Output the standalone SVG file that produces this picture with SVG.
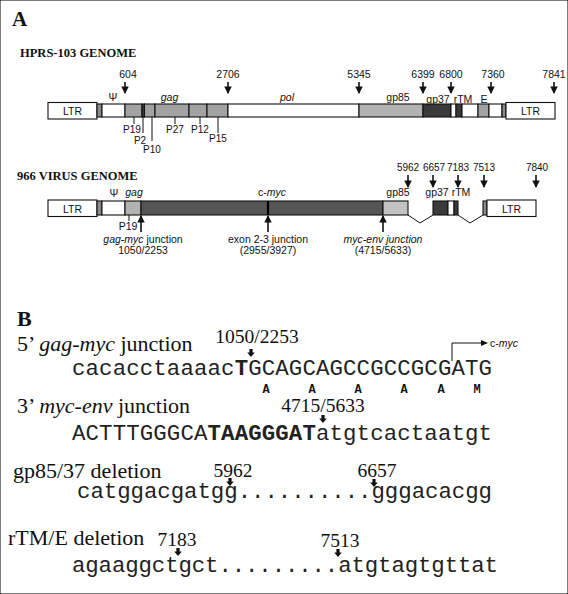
<svg xmlns="http://www.w3.org/2000/svg" width="568" height="594" viewBox="0 0 568 594">
<style>
.sans{font-family:"Liberation Sans",Arial,sans-serif;font-size:10.5px;fill:#111}
.sm{font-size:10px}
.mid{text-anchor:middle}
.it{font-style:italic}
.serif{font-family:"Liberation Serif","Times New Roman",serif;fill:#111}
.head{font-family:"Liberation Serif","Times New Roman",serif;font-weight:bold;fill:#111}
.mono{font-family:"Liberation Mono","Courier New",monospace;font-size:22.4px;fill:#222}
.aa{font-family:"Liberation Mono","Courier New",monospace;font-size:12px;font-weight:bold;fill:#111;text-anchor:middle}
.b{font-weight:bold}
rect{stroke:#111;stroke-width:1.1}
.w{fill:#fff}
.g0{fill:#8a8a8a}
.g1{fill:#a2a2a2}
.g2{fill:#b2b2b2}
.g3{fill:#c2c2c2}
.d{fill:#3a3a3a}
.d2{fill:#555}
.ln{stroke:#111;stroke-width:1;fill:none}
.arr{stroke:#111;stroke-width:1.6;fill:none;marker-end:url(#ah)}
</style>
<defs>
<marker id="ah" viewBox="0 0 8 8" refX="7" refY="4" markerWidth="7.5" markerHeight="7.5" markerUnits="userSpaceOnUse" orient="auto"><path d="M0,0 L8,4 L0,8 Z" fill="#111"/></marker>
<path id="barr" d="M-1.6,0 H1.6 V3.5 H3.8 L0,8 L-3.8,3.5 H-1.6 Z" fill="#111"/>
</defs>
<rect x="0" y="0" width="568" height="594" fill="#fff" stroke="none"/>

<g id="panelA-labels">
<text class="head" x="12" y="26" font-size="21">A</text>
<text class="head" x="20" y="57" font-size="12.5">HPRS-103 GENOME</text>
<text class="head" x="17" y="180" font-size="12.5">966 VIRUS GENOME</text>
</g>

<g id="hprs-genome">
<rect class="w" x="48" y="102.5" width="49" height="16.5"/>
<text class="sans mid" x="72.5" y="115">LTR</text>
<rect class="g0" x="97" y="104" width="5" height="13"/>
<rect class="w" x="102" y="104" width="23" height="13"/>
<rect class="g1" x="125" y="104" width="17" height="13"/>
<rect class="d" x="142" y="104" width="2.5" height="13"/>
<rect class="g1" x="144.5" y="104" width="10.5" height="13"/>
<rect class="g1" x="155" y="104" width="34" height="13"/>
<rect class="g1" x="189" y="104" width="18" height="13"/>
<rect class="g1" x="207" y="104" width="21" height="13"/>
<rect class="w" x="228" y="104" width="131" height="13"/>
<rect class="g2" x="359" y="104" width="64" height="13"/>
<rect class="d" x="423" y="104" width="28" height="13"/>
<rect class="w" x="451" y="104" width="5" height="13"/>
<rect class="d" x="456" y="104" width="6" height="13"/>
<rect class="w" x="462" y="104" width="16" height="13"/>
<rect class="g1" x="478" y="104" width="11" height="13"/>
<rect class="w" x="489" y="104" width="13" height="13"/>
<rect class="g0" x="502" y="104" width="4" height="13"/>
<rect class="w" x="506" y="102.5" width="49" height="16.5"/>
<text class="sans mid" x="530.5" y="115">LTR</text>
<text class="sans mid" x="113" y="101">Ψ</text>
<text class="sans mid it" x="169.5" y="101">gag</text>
<text class="sans mid it" x="287" y="101">pol</text>
<text class="sans mid" x="398" y="101">gp85</text>
<text class="sans mid" x="438" y="103">gp37</text>
<text class="sans mid" x="463" y="103">rTM</text>
<text class="sans mid" x="484" y="103">E</text>
<path class="ln" d="M134,117 V124 M143,117 V133 M152,117 V141 M175,117 V124 M200,117 V124 M218,117 V133"/>
<text class="sans sm mid" x="132" y="132.5">P19</text>
<text class="sans sm mid" x="140" y="143.5">P2</text>
<text class="sans sm mid" x="152" y="153">P10</text>
<text class="sans sm mid" x="175" y="132.5">P27</text>
<text class="sans sm mid" x="200" y="132.5">P12</text>
<text class="sans sm mid" x="218" y="142">P15</text>
<text class="sans mid" x="128" y="78">604</text>
<text class="sans mid" x="228" y="78">2706</text>
<text class="sans mid" x="359" y="78">5345</text>
<text class="sans mid" x="423" y="78">6399</text>
<text class="sans mid" x="451" y="78">6800</text>
<text class="sans mid" x="493" y="78">7360</text>
<text class="sans mid" x="554" y="78">7841</text>
</g>

<g id="virus966-genome">
<rect class="w" x="48" y="200" width="49" height="16.5"/>
<text class="sans mid" x="72.5" y="212.5">LTR</text>
<rect class="g0" x="97" y="201" width="5" height="14"/>
<rect class="w" x="102" y="201" width="23" height="14"/>
<rect class="g2" x="125" y="201" width="16" height="14"/>
<rect class="d2" x="141" y="201" width="242" height="14"/>
<line x1="268" y1="201" x2="268" y2="215" stroke="#000" stroke-width="2.2"/>
<rect class="g3" x="383" y="201" width="25" height="14"/>
<rect class="d" x="433" y="201" width="15" height="14"/>
<rect class="w" x="448" y="201" width="6" height="14"/>
<rect class="d" x="454" y="201" width="4" height="14"/>
<rect class="g0" x="483" y="201" width="4" height="14"/>
<rect class="w" x="487" y="200" width="49" height="16.5"/>
<text class="sans mid" x="511.5" y="212.5">LTR</text>
<text class="sans mid" x="114" y="197">Ψ</text>
<text class="sans mid it" x="134" y="196">gag</text>
<text class="sans mid" x="272" y="196">c-<tspan class="it">myc</tspan></text>
<text class="sans mid" x="398" y="196">gp85</text>
<text class="sans mid" x="437" y="196">gp37</text>
<text class="sans mid" x="461" y="196">rTM</text>
<path class="ln" d="M129,215 V221"/>
<text class="sans mid" x="128" y="230">P19</text>
<text class="sans mid" x="143" y="243"><tspan class="it">gag-myc</tspan> junction</text>
<text class="sans mid" x="143" y="254">1050/2253</text>
<text class="sans mid" x="268" y="243">exon 2-3 junction</text>
<text class="sans mid" x="268" y="254">(2955/3927)</text>
<text class="sans mid it" x="383" y="243">myc-env junction</text>
<text class="sans mid" x="383" y="254">(4715/5633)</text>
<text class="sans sm mid" x="408" y="171">5962</text>
<text class="sans sm mid" x="434" y="171">6657</text>
<text class="sans sm mid" x="458" y="171">7183</text>
<text class="sans sm mid" x="484" y="171">7513</text>
<text class="sans sm mid" x="537" y="171">7840</text>
</g>

<g id="connectors">
<path class="ln" stroke-width="1.1" d="M408,215 L420,223 L433,215 M458,215 L470,223 L483,215"/>
<path class="arr" d="M125,82 V93"/>
<path class="arr" d="M228,82 V93"/>
<path class="arr" d="M359,82 V93"/>
<path class="arr" d="M423,82 V93"/>
<path class="arr" d="M451,82 V93"/>
<path class="arr" d="M491,82 V93"/>
<path class="arr" d="M554,82 V93"/>
<path class="arr" d="M408,175 V187"/>
<path class="arr" d="M433,175 V187"/>
<path class="arr" d="M458,175 V187"/>
<path class="arr" d="M484,175 V187"/>
<path class="arr" d="M536,175 V187"/>
<path class="arr" d="M141,232 V216"/>
<path class="arr" d="M268,232 V216"/>
<path class="arr" d="M383,232 V216"/>
</g>

<g id="panelB">
<text class="head" x="17" y="326" font-size="22">B</text>
<text class="serif" x="17" y="351" font-size="22">5’ <tspan class="it">gag-myc</tspan> junction</text>
<text class="serif mid" x="257" y="343" font-size="19.5">1050/2253</text>
<use href="#barr" x="251" y="349"/>
<text class="mono" x="72" y="375" textLength="420" lengthAdjust="spacing">cacacctaaaac<tspan class="b">T</tspan>GCAGCAGCCGCCGCGATG</text>
<text class="aa" x="266" y="392.5">A</text>
<text class="aa" x="312" y="392.5">A</text>
<text class="aa" x="358" y="392.5">A</text>
<text class="aa" x="404" y="392.5">A</text>
<text class="aa" x="441" y="392.5">A</text>
<text class="aa" x="477" y="392.5">M</text>
<path class="ln" d="M452,361 V343 H482"/>
<path d="M481,340 L488,343 L481,346 Z" fill="#111"/>
<text class="sans" x="490" y="347" font-size="9.5">c-<tspan class="it">myc</tspan></text>

<text class="serif" x="17" y="413" font-size="22">3’ <tspan class="it">myc-env</tspan> junction</text>
<text class="serif mid" x="323" y="412" font-size="19.5">4715/5633</text>
<use href="#barr" x="323" y="415"/>
<text class="mono" x="72" y="440" textLength="420" lengthAdjust="spacing">ACTTTGGGCA<tspan class="b">TAAGGGAT</tspan>atgtcactaatgt</text>

<text class="serif" x="13" y="478" font-size="22">gp85/37 deletion</text>
<text class="serif mid" x="233" y="477" font-size="19.5">5962</text>
<use href="#barr" x="230" y="478"/>
<text class="serif mid" x="377" y="477" font-size="19.5">6657</text>
<use href="#barr" x="374" y="479"/>
<text class="mono" x="77" y="498" textLength="415" lengthAdjust="spacing">catggacgatgg..........gggacacgg</text>

<text class="serif" x="8" y="545" font-size="22">rTM/E deletion</text>
<text class="serif mid" x="177" y="546" font-size="19.5">7183</text>
<use href="#barr" x="178" y="548"/>
<text class="serif mid" x="340" y="547" font-size="19.5">7513</text>
<use href="#barr" x="338" y="549"/>
<text class="mono" x="72" y="572" textLength="426" lengthAdjust="spacing">agaaggctgct.........atgtagtgttat</text>
</g>
</svg>
